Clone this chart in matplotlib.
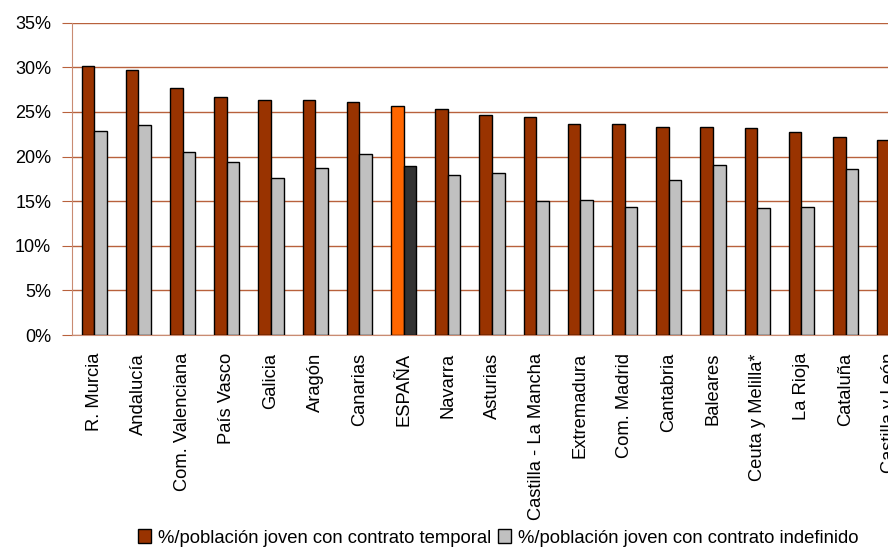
import matplotlib
matplotlib.use("Agg")
import matplotlib.pyplot as plt
from matplotlib.patches import Patch
import numpy as np

plt.rcParams['font.family'] = ['Liberation Sans', 'DejaVu Sans']

categories = ["R. Murcia", "Andalucía", "Com. Valenciana", "País Vasco", "Galicia",
              "Aragón", "Canarias", "ESPAÑA", "Navarra", "Asturias",
              "Castilla - La Mancha", "Extremadura", "Com. Madrid", "Cantabria",
              "Baleares", "Ceuta y Melilla*", "La Rioja", "Cataluña", "Castilla y León"]
temporal = [30.1, 29.7, 27.7, 26.7, 26.3, 26.3, 26.1, 25.7, 25.3, 24.6,
            24.4, 23.6, 23.6, 23.3, 23.3, 23.2, 22.7, 22.2, 21.9]
indefinido = [22.9, 23.5, 20.5, 19.4, 17.6, 18.7, 20.3, 18.9, 17.9, 18.1,
              15.0, 15.1, 14.4, 17.4, 19.0, 14.2, 14.3, 18.6, 14.3]
yticks = [0, 5, 10, 15, 20, 25, 30, 35]
legend_labels = ["%/población joven con contrato temporal",
                 "%/población joven con contrato indefinido"]

c_temp = "#993300"
c_indef = "#C0C0C0"
c_temp_es = "#FF6600"
c_indef_es = "#333333"
grid_c = "#B8613C"

fig = plt.figure(figsize=(8.88, 5.48), dpi=100)
ax = fig.add_axes([72/888, 213/548, 840/888, (335-22.7)/548])

x = np.arange(len(categories))
w = 0.285
col_t = [c_temp_es if c == "ESPAÑA" else c_temp for c in categories]
col_i = [c_indef_es if c == "ESPAÑA" else c_indef for c in categories]
ax.bar(x - w/2, temporal, w, color=col_t, edgecolor="black", linewidth=1.0, zorder=3)
ax.bar(x + w/2, indefinido, w, color=col_i, edgecolor="black", linewidth=1.0, zorder=3)

ax.set_xlim(-0.5, len(categories) - 0.5)
ax.set_ylim(0, 35)
ax.set_yticks(yticks)
ax.set_yticklabels([f"{v}%" for v in yticks])
ax.yaxis.grid(True, color=grid_c, linewidth=1.0, zorder=0)
ax.set_axisbelow(True)

for s in ["top", "right"]:
    ax.spines[s].set_visible(False)
ax.spines["left"].set_color("#C98B72")
ax.spines["bottom"].set_color("#C98B72")
ax.tick_params(axis="y", length=7, color=grid_c, pad=8, labelsize=13)
ax.tick_params(axis="x", length=0, pad=13, labelsize=13.2)
ax.set_xticks(x)
ax.set_xticklabels(categories, rotation=90, va="top", ha="center")

handles = [Patch(facecolor=c_temp, edgecolor="black", linewidth=1.0),
           Patch(facecolor=c_indef, edgecolor="black", linewidth=1.0)]
fig.legend(handles, legend_labels, loc="center", bbox_to_anchor=(498/888, 1 - 538/548),
           ncol=2, frameon=False, fontsize=13.3, handlelength=0.75, handleheight=0.75,
           handletextpad=0.35, columnspacing=0.35, borderpad=0, borderaxespad=0)

fig.savefig("out.png", dpi=100)
